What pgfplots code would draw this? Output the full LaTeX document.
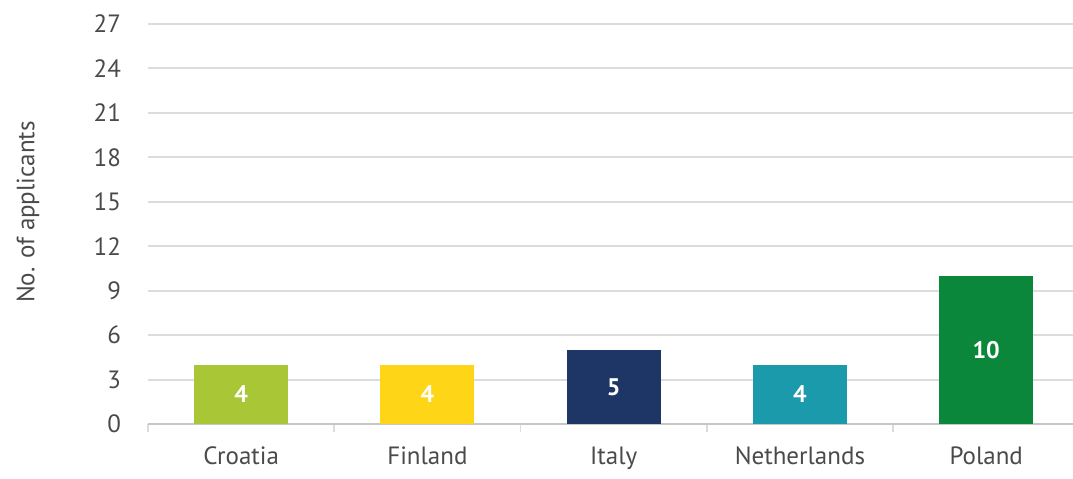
\documentclass[border=0pt]{standalone}
\usepackage{pgfplots}
\pgfplotsset{compat=1.18}
\usepackage{fontspec}
\setmainfont{PT Sans}
\definecolor{cCro}{HTML}{A8C636}
\definecolor{cFin}{HTML}{FFD617}
\definecolor{cIta}{HTML}{1D3666}
\definecolor{cNet}{HTML}{1A9AAA}
\definecolor{cPol}{HTML}{0A873A}
\definecolor{txt}{HTML}{4A4A4A}
\definecolor{gridc}{HTML}{DCDCDC}
\begin{document}
\begin{tikzpicture}
\begin{axis}[
  scale only axis,
  width=462.5pt, height=200pt,
  xmin=-0.5, xmax=4.466,
  ymin=0, ymax=27,
  ytick={0,3,...,27},
  xtick={0,1,2,3,4},
  xticklabels={Croatia,Finland,Italy,Netherlands,Poland},
  minor xtick={-0.5,0.5,1.5,2.5,3.5},
  major tick length=0pt,
  minor tick length=4pt,
  tick align=outside,
  tick style={draw=gridc, line width=0.8pt},
  axis x line*=bottom,
  axis y line*=left,
  y axis line style={draw=none},
  x axis line style={draw=gridc!90!black, line width=0.8pt},
  ymajorgrids,
  grid style={draw=gridc, line width=1pt},
  /pgf/number format/assume math mode=true,
  ticklabel style={font=\fontsize{12.5}{14}\selectfont, text=txt},
  yticklabel style={xshift=-10pt},
  xticklabel style={yshift=-8pt},
  ylabel={No. of applicants},
  every axis y label/.style={at={(axis description cs:0,0.53)},
    xshift=-60pt, rotate=90, anchor=center,
    font=\fontsize{12.5}{14}\selectfont, text=txt},
  bar width=47pt,
  clip=false,
  visualization depends on=rawy \as \rawy,
  nodes near coords,
  every node near coord/.append style={anchor=center, text=white,
    font=\bfseries\fontsize{12}{14}\selectfont,
    shift={(axis direction cs:0,-\rawy/2)}},
]
\addplot[ybar, bar shift=0pt, fill=cCro, draw=none] coordinates {(0,4)};
\addplot[ybar, bar shift=0pt, fill=cFin, draw=none] coordinates {(1,4)};
\addplot[ybar, bar shift=0pt, fill=cIta, draw=none] coordinates {(2,5)};
\addplot[ybar, bar shift=0pt, fill=cNet, draw=none] coordinates {(3,4)};
\addplot[ybar, bar shift=0pt, fill=cPol, draw=none] coordinates {(4,10)};
\end{axis}
\pgfresetboundingbox
\useasboundingbox (-74pt,-27pt) rectangle (462.5pt,212pt);
\end{tikzpicture}
\end{document}
